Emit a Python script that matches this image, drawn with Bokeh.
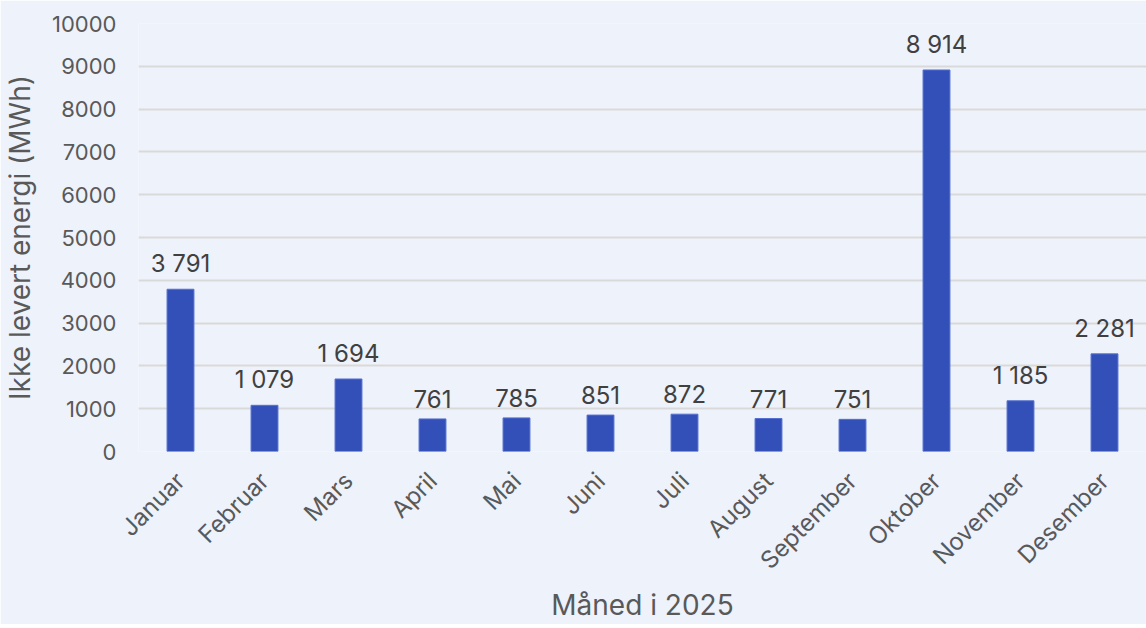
from bokeh.plotting import figure
from bokeh.models import ColumnDataSource, FixedTicker, Range1d, FactorRange
from bokeh.embed import file_html
from bokeh.resources import INLINE
from math import pi

months = ["Januar", "Februar", "Mars", "April", "Mai", "Juni", "Juli",
          "August", "September", "Oktober", "November", "Desember"]
values = [3791, 1079, 1694, 761, 785, 851, 872, 771, 751, 8914, 1185, 2281]
y_ticks = list(range(0, 10001, 1000))

labels = [f"{v:,}".replace(",", " ") for v in values]
src = ColumnDataSource(dict(m=months, v=values, lab=labels))

BG = "#EEF2FB"
FONT = "Inter"

p = figure(x_range=FactorRange(*months, range_padding=0), y_range=Range1d(0, 10000),
           frame_width=1008, frame_height=428, output_backend="svg", toolbar_location=None,
           background_fill_color=BG, border_fill_color=BG,
           min_border_left=130, min_border_right=0, min_border_top=23, min_border_bottom=0)
p.outline_line_color = None

p.vbar(x="m", top="v", width=0.32, source=src, fill_color="#3350B8", line_color="#5570D0", line_width=1)
p.text(x="m", y="v", text="lab", source=src, text_align="center", text_baseline="bottom",
       y_offset=-11, text_font_size="24px", text_color="#404040", text_font={"value": FONT})

p.xgrid.grid_line_color = None
p.ygrid.grid_line_color = "#D9D9D9"
p.ygrid.grid_line_width = 2
p.yaxis.ticker = FixedTicker(ticks=y_ticks)

for ax in (p.xaxis[0], p.yaxis[0]):
    ax.axis_line_color = None
    ax.major_tick_line_color = None
    ax.minor_tick_line_color = None
    ax.major_label_text_font = FONT
    ax.major_label_text_color = "#595959"
    ax.axis_label_text_font = FONT
    ax.axis_label_text_font_size = "28px"
    ax.axis_label_text_font_style = "normal"
    ax.axis_label_text_color = "#595959"

p.yaxis.major_label_text_font_size = "22px"
p.xaxis.major_label_text_font_size = "24px"
p.yaxis.major_label_standoff = 16
p.yaxis.axis_label = "Ikke levert energi (MWh)"
p.yaxis.axis_label_standoff = 12
p.xaxis.major_label_orientation = pi / 4
p.xaxis.major_label_standoff = 19
p.xaxis.axis_label = "Måned i 2025"
p.xaxis.axis_label_standoff = 0

open("out.html", "w").write(file_html(p, INLINE))
